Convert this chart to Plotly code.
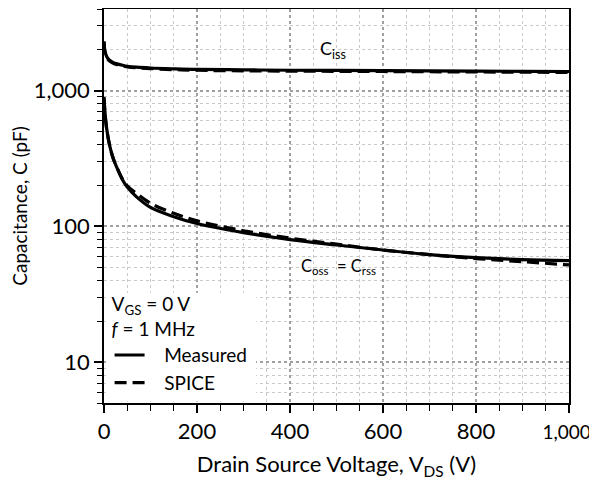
import plotly.graph_objects as go
import math

# ---- data ----
vds = [0, 1, 2, 4, 6, 10, 15, 20, 30, 40, 50, 70, 100, 150, 200, 300, 400, 500, 600, 700, 800, 900, 1000]
ciss_meas = [2300, 2050, 1950, 1850, 1780, 1700, 1650, 1610, 1570, 1540, 1515, 1490, 1470, 1450, 1435, 1425, 1415, 1410, 1405, 1400, 1395, 1390, 1385]
ciss_spice = [2300, 2040, 1940, 1830, 1760, 1680, 1630, 1590, 1550, 1520, 1500, 1475, 1455, 1430, 1415, 1400, 1395, 1390, 1385, 1380, 1375, 1370, 1365]
coss_meas = [900, 780, 700, 590, 520, 430, 360, 315, 260, 220, 195, 165, 138, 118, 105, 90, 80, 73, 67, 62, 59, 57, 56]
coss_spice = [880, 770, 690, 585, 515, 428, 360, 316, 262, 223, 199, 175, 148, 125, 110, 93, 82, 74, 67, 62, 58, 55, 52]

x_ticks = [0, 200, 400, 600, 800, 1000]
x_labels = ["0", "200", "400", "600", "800", "<span style='font-size:19px'>1,000\u00a0</span>"]
y_ticks = [10, 100, 1000]

FONT = "Lato"
fs = 22

fig = go.Figure()
line_w = 3.2
dash = "12px,6px"

fig.add_trace(go.Scatter(x=vds, y=ciss_meas, mode="lines", name="   Measured", legendgroup="m",
                         line=dict(color="black", width=line_w, shape="spline")))
fig.add_trace(go.Scatter(x=vds, y=ciss_spice, mode="lines", name="   SPICE", legendgroup="s",
                         line=dict(color="black", width=line_w, dash=dash, shape="spline")))
fig.add_trace(go.Scatter(x=vds, y=coss_meas, mode="lines", name="   Measured", legendgroup="m", showlegend=False,
                         line=dict(color="black", width=line_w, shape="spline")))
fig.add_trace(go.Scatter(x=vds, y=coss_spice, mode="lines", name="   SPICE", legendgroup="s", showlegend=False,
                         line=dict(color="black", width=line_w, dash=dash, shape="spline")))

# white box behind legend (covers the grid), inset so the axis lines stay visible
fig.add_shape(type="rect", xref="x domain", yref="y domain", x0=0.004, x1=0.327, y0=0.004, y1=0.28,
              fillcolor="white", line=dict(width=0), layer="above")

fig.add_annotation(x=460, y=math.log10(2000), text="C<sub>iss</sub>", showarrow=False,
                   xanchor="left", yanchor="middle", font=dict(family=FONT, size=18, color="black"))
fig.add_annotation(x=505, y=math.log10(51), text="C<sub>oss</sub>  = C<sub>rss</sub>", showarrow=False,
                   xanchor="center", yanchor="middle", font=dict(family=FONT, size=16.5, color="black"))

fig.update_layout(
    width=589, height=472,
    margin=dict(l=96, r=28, t=1, b=77, autoexpand=False),
    paper_bgcolor="white", plot_bgcolor="white",
    font=dict(family=FONT, size=fs, color="black"),
    showlegend=True,
    legend=dict(x=0.012, y=0.295, xanchor="left", yanchor="top", bgcolor="rgba(0,0,0,0)",
                font=dict(family=FONT, size=19), tracegroupgap=0, itemwidth=30,
                title=dict(text="V<sub>GS</sub> = 0 V<br><i>f</i> = 1 MHz", font=dict(family=FONT, size=19))),
    xaxis=dict(range=[0, 1000], tickvals=x_ticks, ticktext=x_labels, ticks="outside", ticklen=8,
               tickwidth=1.5, tickcolor="black", showline=True, linecolor="black", linewidth=1.5,
               mirror=True, showgrid=True, gridcolor="#a0a0a0", gridwidth=2, griddash="dot",
               zeroline=False, tickfont=dict(size=fs), automargin=False, ticklabeloverflow="allow",
               minor=dict(dtick=50, ticks="outside", ticklen=6, tickcolor="black", tickwidth=1.2,
                          showgrid=True, gridcolor="#c8c8c8", gridwidth=1, griddash="dot"),
               title=dict(text="Drain Source Voltage, V<sub>DS</sub> (V)", font=dict(size=22), standoff=16)),
    yaxis=dict(type="log", range=[math.log10(5), math.log10(4000)], tickvals=y_ticks, tickformat=",",
               ticks="outside", ticklen=8, tickwidth=1.5, tickcolor="black", showline=True,
               linecolor="black", linewidth=1.5, mirror=True, showgrid=True, gridcolor="#a0a0a0",
               gridwidth=2, griddash="dot", zeroline=False, tickfont=dict(size=fs), automargin=False,
               minor=dict(dtick="D1", ticks="outside", ticklen=5, tickcolor="black", tickwidth=1.2,
                          showgrid=True, gridcolor="#c8c8c8", gridwidth=1, griddash="dot"),
               title=dict(text="Capacitance, C (pF)", font=dict(size=19), standoff=12)),
)

fig.write_html("out.html")
